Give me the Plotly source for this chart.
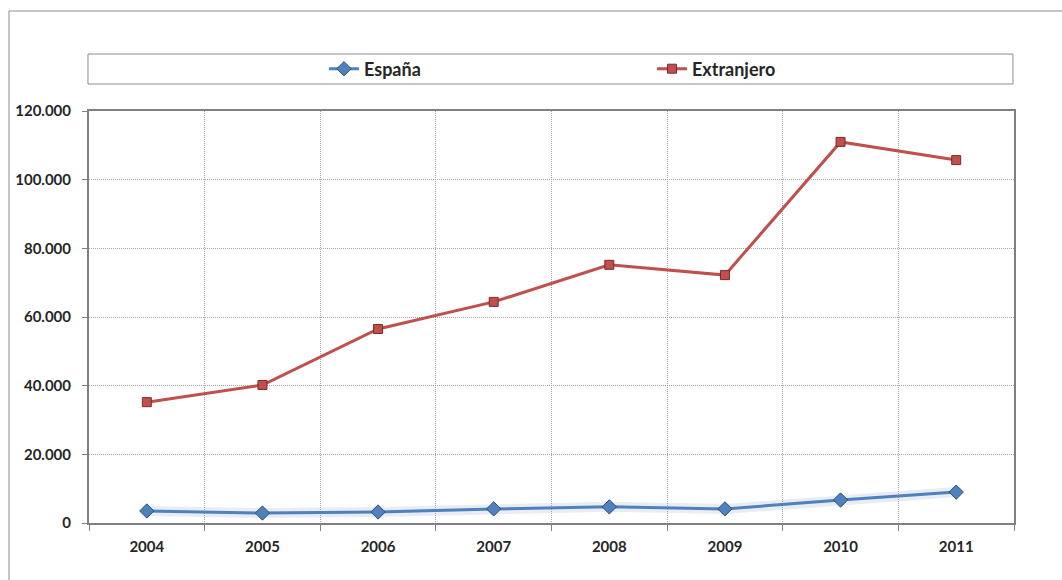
import plotly.graph_objects as go

years = ["2004", "2005", "2006", "2007", "2008", "2009", "2010", "2011"]
espana = [3500, 2900, 3200, 4100, 4700, 4100, 6700, 9000]
extranjero = [35200, 40200, 56500, 64400, 75200, 72200, 111000, 105700]
y_tickvals = [0, 20000, 40000, 60000, 80000, 100000, 120000]
y_ticktext = ["0", "20.000", "40.000", "60.000", "80.000", "100.000", "120.000"]

FONT = "Lato"
TXT = "#262626"

fig = go.Figure()
# soft glow under the España series
fig.add_trace(go.Scatter(
    x=years, y=espana, mode="lines", showlegend=False, hoverinfo="skip",
    line=dict(color="rgba(120,150,200,0.18)", width=10),
))
fig.add_trace(go.Scatter(
    x=years, y=espana, name="España", mode="lines+markers",
    line=dict(color="#4F81BD", width=3),
    marker=dict(symbol="diamond", size=11, color="#4F81BD",
                line=dict(color="#2E4F7A", width=1)),
))
fig.add_trace(go.Scatter(
    x=years, y=extranjero, name="Extranjero", mode="lines+markers",
    line=dict(color="#C0504D", width=3),
    marker=dict(symbol="square", size=9, color="#C0504D",
                line=dict(color="#7A2A28", width=1)),
))

# outer chart border and legend box
fig.add_shape(type="rect", xref="paper", yref="paper",
              x0=-0.0865, x1=1.2, y0=-0.3, y1=1.2427,
              line=dict(color="#8C8C8C", width=1), layer="below")
fig.add_shape(type="rect", xref="paper", yref="paper",
              x0=-0.0011, x1=0.9989, y0=1.0655, y1=1.1383,
              line=dict(color="#8C8C8C", width=1), layer="below")

fig.update_layout(
    width=1062, height=580,
    margin=dict(l=89, r=48, t=111, b=57),
    paper_bgcolor="white", plot_bgcolor="white",
    font=dict(family=FONT, color=TXT, size=15, weight="bold"),
    showlegend=True,
    legend=dict(orientation="h", x=(329 - 89 - 5) / 925, xanchor="left", y=1.1019,
                yanchor="middle", font=dict(family=FONT, size=18, color=TXT, weight="bold"),
                entrywidth=283, itemwidth=30, bgcolor="rgba(0,0,0,0)",
                traceorder="normal"),
    xaxis=dict(
        type="category", tickson="boundaries", range=[-0.5, 7.5],
        showline=True, linecolor="#808080", linewidth=2, mirror=True,
        ticks="outside", ticklen=6, tickcolor="#808080",
        showgrid=True, gridcolor="#A6A6A6", griddash="1px,1px", gridwidth=1,
        tickfont=dict(family=FONT, size=15, color=TXT, weight="bold"),
        ticklabelstandoff=9,
    ),
    yaxis=dict(
        range=[0, 120000], tickvals=y_tickvals, ticktext=y_ticktext,
        showline=True, linecolor="#808080", linewidth=2, mirror=True,
        ticks="outside", ticklen=5, tickcolor="#808080",
        showgrid=True, gridcolor="#A6A6A6", griddash="1px,1px", gridwidth=1,
        zeroline=False,
        tickfont=dict(family=FONT, size=15, color=TXT, weight="bold"),
        ticklabelstandoff=8,
    ),
)

fig.write_html("out.html")
